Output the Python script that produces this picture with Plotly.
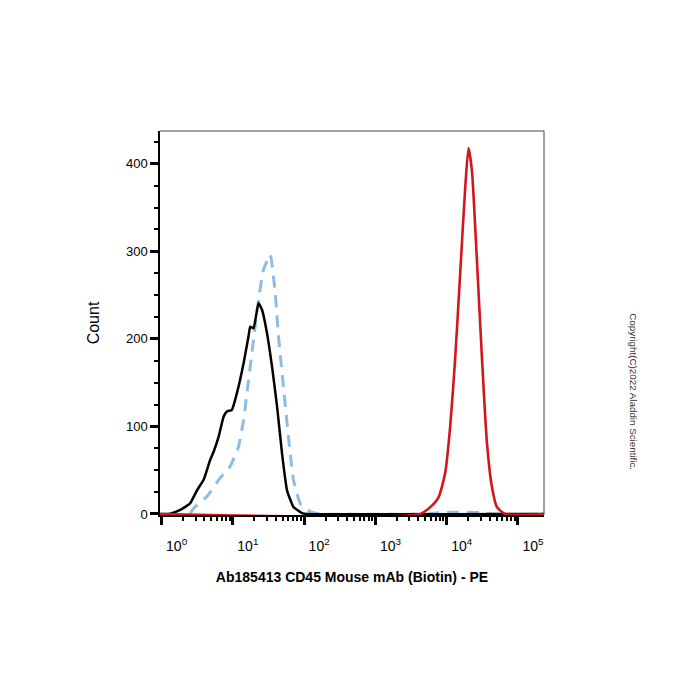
import numpy as np
import plotly.graph_objects as go

# log10(PE intensity) and counts
black_log = [-0.02, 0.10, 0.146, 0.262, 0.40, 0.497, 0.59, 0.683, 0.73, 0.80, 0.87, 0.917, 0.987, 1.057,
             1.15, 1.22, 1.244, 1.29, 1.36, 1.41, 1.48, 1.55, 1.62, 1.69, 1.76, 1.85, 1.97, 2.05, 5.37]
black_cnt = [0, 0, 1, 4.6, 12, 27, 39, 62, 71, 88, 111, 117, 119, 138,
             172, 203, 214, 212, 241, 233, 206, 168, 123, 69, 27, 8, 1, 0, 0]

blue_log = [0.40, 0.45, 0.637, 0.82, 0.96, 1.08, 1.15, 1.22, 1.29, 1.36, 1.43, 1.525, 1.595, 1.64,
            1.71, 1.78, 1.85, 1.945, 2.085, 2.23, 3.7, 3.9, 4.1, 4.3, 4.5, 4.65, 5.28, 5.32, 5.37]
blue_cnt = [0, 6.5, 20, 41, 54, 77, 107, 153, 199, 245, 279, 296, 252, 203,
            145, 88, 39, 12, 2.6, 0, 0, 1.5, 2, 2, 1.5, 0, 0, 3, 8]

red_log = [-0.02, 3.628, 3.77, 3.885, 3.979, 4.05, 4.12, 4.19, 4.26, 4.306, 4.353, 4.42, 4.494,
           4.564, 4.634, 4.704, 4.82, 5.37]
red_cnt = [0, 0, 7.8, 19, 47, 101, 179, 276, 373, 418, 393, 296, 179,
           82, 31, 8, 0, 0]

x_major = [1, 10, 100, 1000, 10000, 100000]
x_labels = ["10<sup>%d</sup>" % i for i in range(6)]
x_minor = [m * d for d in [1, 10, 100, 1000, 10000] for m in range(2, 10)]
y_major = [0, 100, 200, 300, 400]

font_family = "Liberation Sans, Arial, sans-serif"

fig = go.Figure()
fig.add_trace(go.Scatter(x=10 ** np.array(blue_log), y=blue_cnt, mode="lines",
                         line=dict(color="#8dbde4", width=3, dash="12px,8px", shape="spline", smoothing=0.4)))
fig.add_trace(go.Scatter(x=10 ** np.array(black_log), y=black_cnt, mode="lines",
                         line=dict(color="#000000", width=2.5, shape="spline", smoothing=0.4)))
fig.add_trace(go.Scatter(x=10 ** np.array(red_log), y=red_cnt, mode="lines",
                         line=dict(color="#d3161e", width=2.6, shape="spline", smoothing=0.6)))

fig.update_layout(
    width=700, height=700,
    margin=dict(l=160, r=156, t=131, b=185),
    paper_bgcolor="white", plot_bgcolor="white",
    showlegend=False,
    font=dict(family=font_family, color="black"),
    xaxis=dict(
        type="log", range=[-0.022, 5.365],
        tickvals=x_major, ticktext=x_labels,
        ticks="outside", ticklen=8, tickwidth=3, tickcolor="black",
        ticklabelshift=15, ticklabelstandoff=9,
        tickfont=dict(size=14, family=font_family),
        minor=dict(tickvals=x_minor, ticks="outside", ticklen=4, tickwidth=1.5, tickcolor="black"),
        showline=True, linecolor="black", linewidth=1.5,
        showgrid=False, zeroline=False, layer="below traces",
        title=dict(text="<b>Ab185413 CD45 Mouse mAb (Biotin) - PE</b>", font=dict(size=14), standoff=20),
    ),
    yaxis=dict(
        range=[-1.2, 437.5],
        tickvals=y_major,
        ticks="outside", ticklen=8, tickwidth=3, tickcolor="black",
        tickfont=dict(size=13, family=font_family),
        minor=dict(dtick=25, tick0=0, ticks="outside", ticklen=4, tickwidth=1.5, tickcolor="black"),
        showline=True, linecolor="black", linewidth=1.5,
        showgrid=False, zeroline=False, layer="below traces",
        title=dict(text="Count", font=dict(size=16), standoff=22),
    ),
    shapes=[
        dict(type="line", xref="paper", yref="paper", x0=0, x1=1, y0=1, y1=1,
             line=dict(color="#444444", width=1)),
        dict(type="line", xref="paper", yref="paper", x0=1, x1=1, y0=0, y1=1,
             line=dict(color="#444444", width=1)),
    ],
    annotations=[
        dict(text="Copyright(C)2022 Aladdin Scientific.", textangle=90,
             xref="paper", yref="paper", x=1.234, y=0.32, showarrow=False,
             font=dict(size=9.8, color="#333333"), xanchor="center", yanchor="middle"),
    ],
)

fig.write_html("out.html")
